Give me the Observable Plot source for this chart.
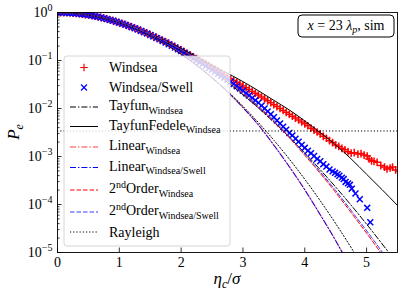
<!DOCTYPE html>
<html><head><meta charset="utf-8">
<script src="https://cdn.jsdelivr.net/npm/d3@7"></script>
<script src="https://cdn.jsdelivr.net/npm/@observablehq/plot@0.6"></script>
<style>body{margin:0;background:#fff;overflow:hidden}</style>
</head><body><div id="chart"></div>
<script>
// ---- data: [eta_c/sigma, log10(Pe)] ----
const majorTicks = [1, 1e-1, 1e-2, 1e-3, 1e-4, 1e-5];
const xTicks = [0, 1, 2, 3, 4, 5];
const threshold = 3.4e-3;

const windsea = [
[0,0],[0.05,-0.001],[0.1,-0.002],[0.15,-0.005],[0.2,-0.008],[0.25,-0.013],[0.3,-0.019],[0.35,-0.026],[0.4,-0.034],[0.45,-0.043],
[0.5,-0.052],[0.55,-0.063],[0.6,-0.075],[0.65,-0.089],[0.7,-0.103],[0.75,-0.118],[0.8,-0.134],[0.85,-0.152],[0.9,-0.17],[0.95,-0.19],
[1.0,-0.21],[1.05,-0.232],[1.1,-0.254],[1.15,-0.277],[1.2,-0.3],[1.25,-0.325],[1.3,-0.351],[1.35,-0.377],[1.4,-0.404],[1.45,-0.432],
[1.5,-0.46],[1.55,-0.489],[1.6,-0.519],[1.65,-0.549],[1.7,-0.579],[1.75,-0.61],[1.8,-0.643],[1.85,-0.677],[1.9,-0.711],[1.95,-0.745],
[2.0,-0.78],[2.05,-0.816],[2.1,-0.852],[2.15,-0.888],[2.2,-0.924],[2.25,-0.96],[2.3,-0.996],[2.35,-1.032],[2.4,-1.068],[2.45,-1.104],
[2.5,-1.14],[2.55,-1.18],[2.6,-1.22],[2.65,-1.26],[2.7,-1.3],[2.75,-1.34],[2.8,-1.378],[2.85,-1.416],[2.9,-1.454],[2.95,-1.492],
[3.0,-1.53],[3.05,-1.568],[3.1,-1.606],[3.15,-1.644],[3.2,-1.682],[3.25,-1.72],[3.3,-1.76],[3.35,-1.8],[3.4,-1.84],[3.45,-1.88],
[3.5,-1.92],[3.55,-1.96],[3.6,-2.0],[3.65,-2.04],[3.7,-2.08],[3.75,-2.12],[3.8,-2.16],[3.85,-2.2],[3.9,-2.24],[3.95,-2.28],
[4.0,-2.32],[4.05,-2.36],[4.1,-2.41],[4.15,-2.45],[4.2,-2.49],[4.25,-2.53],[4.3,-2.58],[4.35,-2.62],[4.4,-2.67],[4.45,-2.71],
[4.5,-2.76],[4.55,-2.79],[4.6,-2.83],[4.65,-2.86],[4.7,-2.9],[4.75,-2.93],[4.8,-2.92],[4.86,-2.95],[4.91,-2.94],[4.96,-2.97],
[5.01,-2.99],[5.04,-3.05],[5.08,-3.09],[5.12,-3.1],[5.17,-3.12],[5.23,-3.19],[5.29,-3.22],[5.33,-3.26],[5.38,-3.24],[5.42,-3.22],
[5.47,-3.28],[5.52,-3.3]
];
const windseaSwell = [
[0,0],[0.05,-0.001],[0.1,-0.002],[0.15,-0.005],[0.2,-0.008],[0.25,-0.013],[0.3,-0.019],[0.35,-0.026],[0.4,-0.034],[0.45,-0.043],
[0.5,-0.053],[0.55,-0.064],[0.6,-0.076],[0.65,-0.09],[0.7,-0.104],[0.75,-0.12],[0.8,-0.136],[0.85,-0.154],[0.9,-0.173],[0.95,-0.193],
[1.0,-0.213],[1.05,-0.235],[1.1,-0.257],[1.15,-0.28],[1.2,-0.305],[1.25,-0.33],[1.3,-0.356],[1.35,-0.383],[1.4,-0.41],[1.45,-0.439],
[1.5,-0.468],[1.55,-0.498],[1.6,-0.529],[1.65,-0.56],[1.7,-0.592],[1.75,-0.625],[1.8,-0.659],[1.85,-0.694],[1.9,-0.729],[1.95,-0.764],
[2.0,-0.8],[2.05,-0.837],[2.1,-0.874],[2.15,-0.912],[2.2,-0.951],[2.25,-0.99],[2.3,-1.03],[2.35,-1.07],[2.4,-1.11],[2.45,-1.15],
[2.5,-1.19],[2.55,-1.232],[2.6,-1.274],[2.65,-1.316],[2.7,-1.358],[2.75,-1.4],[2.8,-1.445],[2.85,-1.49],[2.9,-1.535],[2.95,-1.582],
[3.0,-1.63],[3.05,-1.68],[3.1,-1.73],[3.15,-1.78],[3.2,-1.83],[3.25,-1.88],[3.3,-1.94],[3.35,-2.0],[3.4,-2.06],[3.45,-2.12],
[3.5,-2.18],[3.55,-2.25],[3.6,-2.31],[3.65,-2.38],[3.7,-2.44],[3.75,-2.51],[3.8,-2.56],[3.85,-2.63],[3.9,-2.69],[3.95,-2.76],
[4.0,-2.82],[4.05,-2.88],[4.1,-2.93],[4.15,-2.99],[4.2,-3.05],[4.25,-3.1],[4.3,-3.16],[4.35,-3.21],[4.4,-3.27],[4.45,-3.31],
[4.49,-3.34],[4.53,-3.37],[4.56,-3.4],[4.6,-3.44],[4.63,-3.47],[4.66,-3.53],[4.7,-3.56],[4.73,-3.59],[4.76,-3.67],[4.82,-3.77],
[4.89,-3.89],[5.01,-4.07],[5.06,-4.37]
];
const tayfunWindsea = [[0,0],[0.486,-0.05],[0.69,-0.1],[1.101,-0.25],[1.573,-0.5],[1.942,-0.75],[2.258,-1],[2.796,-1.5],[3.259,-2],[3.673,-2.5],[4.053,-3],[4.407,-3.5],[4.74,-4],[5.056,-4.5],[5.359,-5]];
const tayfunFedeleWindsea = [[0,0],[0.5,-0.05],[1,-0.2],[1.5,-0.44],[2,-0.75],[2.25,-0.92],[2.5,-1.1],[2.83,-1.32],[3,-1.44],[3.25,-1.63],[3.5,-1.83],[3.75,-2.03],[4,-2.26],[4.25,-2.5],[4.5,-2.76],[4.75,-3.05],[5,-3.37],[5.25,-3.69],[5.5,-4.02]];
const linearWindsea = [[0,0],[0.5,-0.054],[1,-0.215],[1.5,-0.485],[2,-0.865],[2.5,-1.36],[2.75,-1.65],[3,-1.98],[3.25,-2.34],[3.5,-2.76],[3.75,-3.21],[4,-3.69],[4.25,-4.21],[4.5,-4.75],[4.61,-5.0]];
const linearWindseaSwell = [[0,0],[0.5,-0.054],[1,-0.216],[1.5,-0.486],[2,-0.866],[2.5,-1.362],[2.75,-1.652],[3,-1.983],[3.25,-2.344],[3.5,-2.765],[3.75,-3.215],[4,-3.695],[4.25,-4.215],[4.5,-4.755],[4.61,-5.01]];
const secondWindsea = [[0,0],[0.507,-0.054],[1.029,-0.215],[1.565,-0.485],[2.116,-0.865],[2.681,-1.36],[2.969,-1.65],[3.261,-1.98],[3.556,-2.34],[3.855,-2.76],[4.158,-3.21],[4.464,-3.69],[4.774,-4.21],[5.087,-4.75],[5.226,-5.0]];
const secondWindseaSwell = [[0,0],[0.508,-0.054],[1.031,-0.215],[1.569,-0.485],[2.122,-0.865],[2.691,-1.36],[2.981,-1.65],[3.275,-1.98],[3.572,-2.34],[3.874,-2.76],[4.179,-3.21],[4.488,-3.69],[4.801,-4.21],[5.118,-4.75],[5.258,-5.0]];
const rayleigh = [[0,0],[0.25,-0.0136],[0.5,-0.0543],[0.75,-0.122],[1,-0.217],[1.25,-0.339],[1.5,-0.489],[1.75,-0.665],[2,-0.869],[2.25,-1.099],[2.5,-1.357],[2.75,-1.642],[3,-1.954],[3.25,-2.294],[3.5,-2.66],[3.75,-3.054],[4,-3.474],[4.25,-3.922],[4.5,-4.397],[4.75,-4.899],[4.8,-5.003]];

const FONT = "Liberation Serif";
const minorTicks = majorTicks.slice(1).flatMap(d => [2,3,4,5,6,7,8,9].map(k => k*d));
const X = d => d[0], Y = d => Math.pow(10, d[1]);
const rPlus = 2.6, rTimes = 2.8;
const dashDot = "6,2,1.4,2", dashed = "4.5,2", dotted = "1.2,2";

const svg = Plot.plot({
  width: 407, height: 298,
  marginLeft: 57, marginRight: 10, marginTop: 12, marginBottom: 46,
  x: {domain: [0, 5.5]},
  y: {type: "log", domain: [1e-5, 1]},
  style: {fontFamily: FONT, fontSize: "14px", background: "white", color: "black", overflow: "visible"},
  marks: [
    Plot.dot(windsea, {x: X, y: Y, symbol: "plus", r: rPlus, stroke: "#ff0000", strokeWidth: 1.5, clip: true}),
    Plot.dot(windseaSwell, {x: X, y: Y, symbol: "times", r: rTimes, stroke: "#0000ff", strokeWidth: 1.5, clip: true}),
    Plot.line(tayfunWindsea, {x: X, y: Y, stroke: "black", strokeWidth: 1, strokeDasharray: dashDot, curve: "monotone-x", clip: true}),
    Plot.line(tayfunFedeleWindsea, {x: X, y: Y, stroke: "black", strokeWidth: 1, curve: "monotone-x", clip: true}),
    Plot.line(linearWindsea, {x: X, y: Y, stroke: "#ff5050", strokeWidth: 1.4, strokeOpacity: 0.75, strokeDasharray: dashDot, curve: "monotone-x", clip: true}),
    Plot.line(linearWindseaSwell, {x: X, y: Y, stroke: "#0000ff", strokeWidth: 1, strokeDasharray: dashDot, curve: "monotone-x", clip: true}),
    Plot.line(secondWindsea, {x: X, y: Y, stroke: "#ff0000", strokeWidth: 1, strokeDasharray: dashed, curve: "monotone-x", clip: true}),
    Plot.line(secondWindseaSwell, {x: X, y: Y, stroke: "#3c3cff", strokeWidth: 1, strokeDasharray: dashed, curve: "monotone-x", clip: true}),
    Plot.line(rayleigh, {x: X, y: Y, stroke: "black", strokeWidth: 1, strokeDasharray: dotted, curve: "monotone-x", clip: true}),
    Plot.ruleY([threshold], {stroke: "black", strokeWidth: 1, strokeDasharray: dotted}),
    Plot.frame({stroke: "black", strokeWidth: 0.9}),
    Plot.axisY({ticks: minorTicks, tickSize: -2.5, tickFormat: () => "", label: null, strokeWidth: 0.8}),
    Plot.axisY({ticks: majorTicks, tickSize: -4.5, tickFormat: () => "", label: null, strokeWidth: 0.8}),
    Plot.axisY({ticks: majorTicks, tickSize: 0, tickPadding: 5, label: null,
      tickFormat: d => { const e = Math.round(Math.log10(d)); return "10^" + (e === 0 ? "0" : "\u2212" + (-e)); }}),
    Plot.axisX({ticks: xTicks, tickSize: -4.5, tickFormat: () => "", label: null, strokeWidth: 0.8}),
    Plot.axisX({ticks: xTicks, tickSize: 0, tickPadding: 5, label: null, tickFormat: d => String(d)})
  ]
});
document.getElementById("chart").appendChild(svg);

const S = d3.select(svg);
// superscript exponents on y tick labels
S.selectAll('g[aria-label="y-axis tick label"] text').each(function() {
  const t = d3.select(this); const s = t.text();
  if (!s.includes("^")) return;
  const [base, exp] = s.split("^");
  t.text(null);
  t.append("tspan").text(base);
  t.append("tspan").attr("font-size", 10).attr("dy", -6).text(exp);
});

const g = S.append("g").attr("font-family", FONT).attr("fill", "black").attr("text-anchor", "start");
// axis labels
const yl = g.append("text").attr("transform", "translate(19,132) rotate(-90)").attr("text-anchor", "middle").attr("font-size", 17);
yl.append("tspan").attr("font-style", "italic").text("P");
yl.append("tspan").attr("font-style", "italic").attr("font-size", 12).attr("dy", 4).text("e");
const xl = g.append("text").attr("x", 227).attr("y", 284).attr("text-anchor", "middle").attr("font-size", 17);
xl.append("tspan").attr("font-style", "italic").text("η");
xl.append("tspan").attr("font-style", "italic").attr("font-size", 12).attr("dy", 4).text("c");
xl.append("tspan").attr("dy", -4).text("/");
xl.append("tspan").attr("font-style", "italic").text("σ");

// annotation box
g.append("rect").attr("x", 298).attr("y", 15).attr("width", 96).attr("height", 22).attr("rx", 4)
  .attr("fill", "white").attr("stroke", "black").attr("stroke-width", 1);
const an = g.append("text").attr("x", 346).attr("y", 30).attr("text-anchor", "middle").attr("font-size", 14);
an.append("tspan").attr("font-style", "italic").text("x");
an.append("tspan").text(" = 23 ");
an.append("tspan").attr("font-style", "italic").text("λ");
an.append("tspan").attr("font-style", "italic").attr("font-size", 10).attr("dy", 3).text("p");
an.append("tspan").attr("dy", -3).text(", sim");

// legend
g.append("rect").attr("x", 64).attr("y", 56).attr("width", 166).attr("height", 190).attr("rx", 3)
  .attr("fill", "white").attr("fill-opacity", 0.8).attr("stroke", "#cccccc").attr("stroke-width", 0.8);
const entries = [
  {kind: "plus", color: "#ff0000", base: 72, parts: [["Windsea"]]},
  {kind: "times", color: "#0000ff", base: 92, parts: [["Windsea/Swell"]]},
  {kind: "line", color: "black", dash: dashDot, base: 110, parts: [["Tayfun"], ["Windsea", "sub"]]},
  {kind: "line", color: "black", dash: null, base: 129.5, parts: [["TayfunFedele"], ["Windsea", "sub"]]},
  {kind: "line", color: "#ff5050", op: 0.75, w: 1.4, dash: dashDot, base: 150, parts: [["Linear"], ["Windsea", "sub"]]},
  {kind: "line", color: "#0000ff", dash: dashDot, base: 170.5, parts: [["Linear"], ["Windsea/Swell", "sub"]]},
  {kind: "line", color: "#ff0000", dash: dashed, base: 193, parts: [["2"], ["nd", "sup"], ["Order"], ["Windsea", "sub"]]},
  {kind: "line", color: "#3c3cff", dash: dashed, base: 215, parts: [["2"], ["nd", "sup"], ["Order"], ["Windsea/Swell", "sub"]]},
  {kind: "line", color: "black", dash: dotted, base: 236.5, parts: [["Rayleigh"]]}
];
for (const e of entries) {
  const hasSub = e.parts.some(p => p[1] === "sub");
  const hy = e.base - (hasSub ? 3 : 4.5);
  if (e.kind === "line") {
    g.append("line").attr("x1", 70).attr("x2", 98).attr("y1", hy).attr("y2", hy)
      .attr("stroke", e.color).attr("stroke-width", e.w || 1).attr("stroke-opacity", e.op || 1)
      .attr("stroke-dasharray", e.dash);
  } else {
    const sym = d3.symbol().type(e.kind === "plus" ? d3.symbolPlus : d3.symbolTimes)
      .size(Math.PI * Math.pow(e.kind === "plus" ? rPlus : rTimes, 2));
    g.append("path").attr("d", sym()).attr("transform", `translate(84,${hy})`)
      .attr("fill", "none").attr("stroke", e.color).attr("stroke-width", 1.2);
  }
  const t = g.append("text").attr("x", 109).attr("y", e.base).attr("font-size", 14).attr("text-anchor", "start");
  let shift = 0;
  for (const [txt, mode] of e.parts) {
    const target = mode === "sub" ? 3.5 : mode === "sup" ? -5 : 0;
    const ts = t.append("tspan").attr("dy", target - shift).text(txt);
    if (mode) ts.attr("font-size", 10);
    shift = target;
  }
}
</script></body></html>
